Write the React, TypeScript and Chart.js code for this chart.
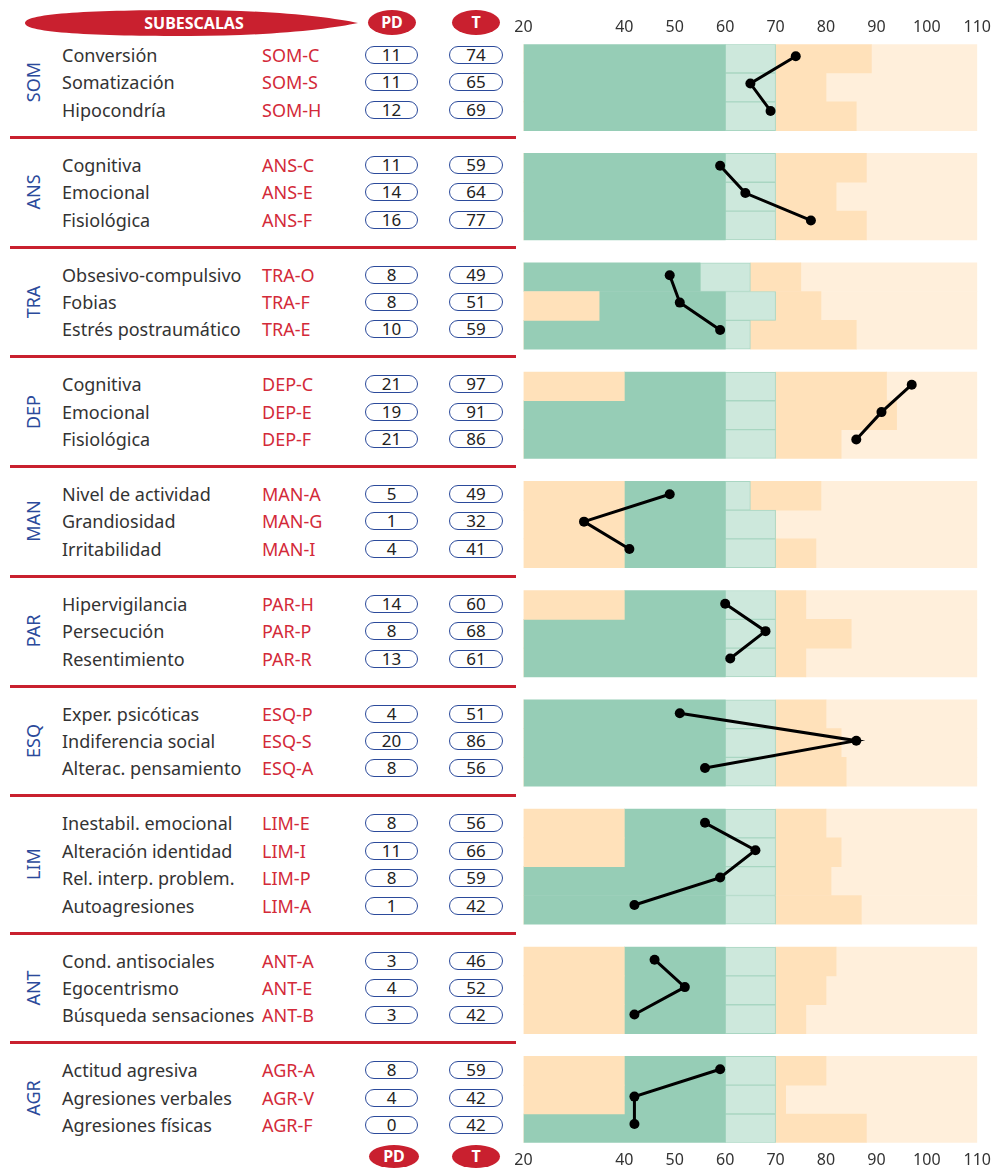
import React, { useEffect, useRef } from "react";
import { Chart, registerables } from "chart.js";

Chart.register(...registerables);

// ---------------- data ----------------
const GROUPS = ["SOM", "ANS", "TRA", "DEP", "MAN", "PAR", "ESQ", "LIM", "ANT", "AGR"];
const GROUP_SIZES = [3, 3, 3, 3, 3, 3, 3, 4, 3, 3];

const NAMES = [
  "Conversión", "Somatización", "Hipocondría",
  "Cognitiva", "Emocional", "Fisiológica",
  "Obsesivo-compulsivo", "Fobias", "Estrés postraumático",
  "Cognitiva", "Emocional", "Fisiológica",
  "Nivel de actividad", "Grandiosidad", "Irritabilidad",
  "Hipervigilancia", "Persecución", "Resentimiento",
  "Exper. psicóticas", "Indiferencia social", "Alterac. pensamiento",
  "Inestabil. emocional", "Alteración identidad", "Rel. interp. problem.", "Autoagresiones",
  "Cond. antisociales", "Egocentrismo", "Búsqueda sensaciones",
  "Actitud agresiva", "Agresiones verbales", "Agresiones físicas",
];

const CODES = [
  "SOM-C", "SOM-S", "SOM-H",
  "ANS-C", "ANS-E", "ANS-F",
  "TRA-O", "TRA-F", "TRA-E",
  "DEP-C", "DEP-E", "DEP-F",
  "MAN-A", "MAN-G", "MAN-I",
  "PAR-H", "PAR-P", "PAR-R",
  "ESQ-P", "ESQ-S", "ESQ-A",
  "LIM-E", "LIM-I", "LIM-P", "LIM-A",
  "ANT-A", "ANT-E", "ANT-B",
  "AGR-A", "AGR-V", "AGR-F",
];

const PD = [
  11, 11, 12,
  11, 14, 16,
  8, 8, 10,
  21, 19, 21,
  5, 1, 4,
  14, 8, 13,
  4, 20, 8,
  8, 11, 8, 1,
  3, 4, 3,
  8, 4, 0,
];

const T = [
  74, 65, 69,
  59, 64, 77,
  49, 51, 59,
  97, 91, 86,
  49, 32, 41,
  60, 68, 61,
  51, 86, 56,
  56, 66, 59, 42,
  46, 52, 42,
  59, 42, 42,
];

// band limits per row (T scale)
const LOW_END = [
  20, 20, 20,
  20, 20, 20,
  20, 35, 20,
  40, 20, 20,
  40, 40, 40,
  40, 20, 20,
  20, 20, 20,
  40, 40, 20, 20,
  40, 40, 40,
  40, 40, 20,
];
const DARK_END = [
  60, 60, 60,
  60, 60, 60,
  55, 60, 60,
  60, 60, 60,
  60, 60, 60,
  60, 60, 60,
  60, 60, 60,
  60, 60, 60, 60,
  60, 60, 60,
  60, 60, 60,
];
const LIGHT_END = [
  70, 70, 70,
  70, 70, 70,
  65, 70, 65,
  70, 70, 70,
  65, 70, 70,
  70, 70, 70,
  70, 70, 70,
  70, 70, 70, 70,
  70, 70, 70,
  70, 70, 70,
];
const ORANGE_END = [
  89, 80, 86,
  88, 82, 88,
  75, 79, 86,
  92, 94, 83,
  79, 70, 78,
  76, 85, 76,
  80, 83, 84,
  80, 83, 81, 87,
  82, 80, 76,
  80, 72, 88,
];

const X_TICKS = [20, 40, 50, 60, 70, 80, 90, 100, 110];
const X_MIN = 20;
const X_MAX = 110;

// ---------------- layout / style ----------------
const FONT = '"Noto Sans", "DejaVu Sans", sans-serif';
const RED = "#c9202f";
const CODE_RED = "#d32a39";
const BLUE = "#2b4a9b";
const TEXT = "#333333";
const DARK_GREEN = "#96cdb6";
const LIGHT_GREEN = "#cde8dc";
const LIGHT_GREEN_LINE = "#a9d6c2";
const ORANGE = "#ffe1ba";
const LIGHT_ORANGE = "#ffefdb";

const PLOT_TOP = 43;
const PLOT_BOTTOM = 1144;
const BAR_GAP = 0.79; // group gap, in bar rows
const TEXT_TOP = 55;
const TEXT_PITCH = 27.44;

const CANVAS_LEFT = 500;
const CANVAS_W = 499;
const CANVAS_H = 1178;

const rowGroup: number[] = [];
GROUP_SIZES.forEach((n, g) => {
  for (let i = 0; i < n; i++) rowGroup.push(g);
});
const N = rowGroup.length;
const barPos = rowGroup.map((g, r) => r + g * BAR_GAP);
const slot = rowGroup.map((g, r) => r + g);
const slotY = (s: number) => TEXT_TOP + s * TEXT_PITCH;

const Y_MIN = -0.5;
const Y_MAX = N - 1 + (GROUPS.length - 1) * BAR_GAP + 0.5;
const Y2_MIN = (PLOT_TOP - TEXT_TOP) / TEXT_PITCH;
const Y2_MAX = (PLOT_BOTTOM - TEXT_TOP) / TEXT_PITCH;

function seg(a: number[], b: number[]) {
  return a.map((v, i) => ({ x: [v, b[i]], y: barPos[i] }));
}

function barDs(data: any[], color: string, border?: any, borderColor?: string) {
  return {
    type: "bar" as const,
    data,
    backgroundColor: color,
    borderColor: borderColor || color,
    borderWidth: border || 0,
    borderSkipped: false,
    grouped: false,
    categoryPercentage: 1,
    barPercentage: 1,
    xAxisID: "x",
    yAxisID: "y",
    order: 2,
  };
}

export default function App() {
  const canvasRef = useRef<HTMLCanvasElement>(null);

  useEffect(() => {
    const xStart = NAMES.map(() => X_MIN);
    const xEnd = NAMES.map(() => X_MAX);

    const lineSets = GROUPS.map((_, g) => ({
      type: "line" as const,
      data: rowGroup
        .map((gg, r) => ({ gg, r }))
        .filter((o) => o.gg === g)
        .map((o) => ({ x: T[o.r], y: slot[o.r] })),
      borderColor: "#000",
      borderWidth: 3,
      pointRadius: 5,
      pointBackgroundColor: "#000",
      pointBorderWidth: 0,
      fill: false,
      tension: 0,
      xAxisID: "x",
      yAxisID: "y2",
      order: 0,
    }));

    const tickFont = { family: FONT, size: 16 };
    const xAxisBase = {
      type: "linear" as const,
      min: X_MIN,
      max: X_MAX,
      afterBuildTicks: (s: any) => {
        s.ticks = X_TICKS.map((v) => ({ value: v }));
      },
      grid: { display: false, drawTicks: false },
      border: { display: false },
    };

    const chart = new Chart(canvasRef.current as HTMLCanvasElement, {
      type: "bar",
      data: {
        datasets: [
          ...lineSets,
          barDs(seg(xStart, LOW_END), ORANGE),
          barDs(seg(LOW_END, DARK_END), DARK_GREEN),
          barDs(seg(DARK_END, LIGHT_END), LIGHT_GREEN, 1, LIGHT_GREEN_LINE),
          barDs(seg(LIGHT_END, ORANGE_END), ORANGE),
          barDs(seg(ORANGE_END, xEnd), LIGHT_ORANGE),
        ] as any,
      },
      options: {
        indexAxis: "y",
        responsive: false,
        animation: false,
        events: [],
        layout: { padding: { top: 11, left: 23.5, right: 0, bottom: 0 } },
        plugins: { legend: { display: false }, tooltip: { enabled: false } },
        scales: {
          x: {
            ...xAxisBase,
            position: "bottom",
            ticks: { font: tickFont, color: TEXT, padding: 8, autoSkip: false, maxRotation: 0 },
          },
          x2: {
            ...xAxisBase,
            axis: "x",
            position: "top",
            ticks: { font: tickFont, color: TEXT, padding: 7, autoSkip: false, maxRotation: 0 },
          },
          y: {
            type: "linear",
            display: false,
            reverse: true,
            min: Y_MIN,
            max: Y_MAX,
            afterBuildTicks: (s: any) => {
              s.ticks = [];
            },
          },
          y2: {
            type: "linear",
            axis: "y",
            display: false,
            reverse: true,
            min: Y2_MIN,
            max: Y2_MAX,
            afterBuildTicks: (s: any) => {
              s.ticks = [];
            },
          },
        } as any,
      },
    } as any);
    return () => chart.destroy();
  }, []);

  const ellipse = (cx: number, cy: number, w: number, h: number, label: string, key: string) => (
    <div
      key={key}
      style={{
        position: "absolute",
        left: cx - w / 2,
        top: cy - h / 2,
        width: w,
        height: h,
        borderRadius: "50%",
        background: RED,
        color: "#fff",
        fontWeight: 700,
        fontSize: 16,
        lineHeight: h + "px",
        textAlign: "center",
      }}
    >
      {label}
    </div>
  );

  const pill = (left: number, cy: number, w: number, value: number, key: string) => (
    <div
      key={key}
      style={{
        position: "absolute",
        left,
        top: cy - 9,
        width: w,
        height: 18,
        boxSizing: "border-box",
        border: `1.5px solid ${BLUE}`,
        borderRadius: 9,
        fontSize: 17,
        lineHeight: "15px",
        textAlign: "center",
        color: "#222",
      }}
    >
      {value}
    </div>
  );

  const rows = NAMES.map((name, r) => {
    const cy = slotY(slot[r]);
    return (
      <React.Fragment key={"r" + r}>
        <div
          style={{
            position: "absolute",
            left: 62,
            top: cy - 14,
            height: 28,
            lineHeight: "28px",
            fontSize: 18,
            color: TEXT,
            whiteSpace: "nowrap",
          }}
        >
          {name}
        </div>
        <div
          style={{
            position: "absolute",
            left: 262,
            top: cy - 14,
            height: 28,
            lineHeight: "28px",
            fontSize: 18,
            color: CODE_RED,
            whiteSpace: "nowrap",
          }}
        >
          {CODES[r]}
        </div>
        {pill(365, cy, 53, PD[r], "pd" + r)}
        {pill(449, cy, 54, T[r], "t" + r)}
      </React.Fragment>
    );
  });

  let acc = 0;
  const groupEls = GROUPS.map((gname, g) => {
    const first = acc;
    const last = acc + GROUP_SIZES[g] - 1;
    acc += GROUP_SIZES[g];
    const cy = (slotY(slot[first]) + slotY(slot[last])) / 2;
    const lineY = slotY(slot[last] + 1);
    return (
      <React.Fragment key={"g" + g}>
        <div
          style={{
            position: "absolute",
            left: 33,
            top: cy,
            transform: "translate(-50%, -50%) rotate(-90deg)",
            fontSize: 18,
            lineHeight: "20px",
            color: BLUE,
            whiteSpace: "nowrap",
          }}
        >
          {gname}
        </div>
        {g < GROUPS.length - 1 && (
          <div
            style={{
              position: "absolute",
              left: 10,
              top: lineY - 1.5,
              width: 506,
              height: 3,
              background: RED,
            }}
          />
        )}
      </React.Fragment>
    );
  });

  return (
    <div
      style={{
        position: "fixed",
        left: 0,
        top: 0,
        width: 993,
        height: 1172,
        overflow: "hidden",
        background: "#fff",
        fontFamily: FONT,
      }}
    >
      <svg
        width={370}
        height={45}
        style={{ position: "absolute", left: 0, top: 0 }}
      >
        <path
          d="M 25 23 C 25 13, 95 10, 190 10 C 270 10, 330 17, 358 23 C 330 29, 270 36, 190 36 C 95 36, 25 33, 25 23 Z"
          fill={RED}
        />
      </svg>
      <div
        style={{
          position: "absolute",
          left: 94,
          top: 9,
          width: 200,
          height: 28,
          lineHeight: "28px",
          textAlign: "center",
          color: "#fff",
          fontWeight: 700,
          fontSize: 16,
        }}
      >
        SUBESCALAS
      </div>
      {ellipse(392, 22.5, 48, 25, "PD", "pdTop")}
      {ellipse(476, 22.5, 48, 25, "T", "tTop")}
      {ellipse(394, 1156, 50, 23, "PD", "pdBot")}
      {ellipse(476, 1156, 48, 23, "T", "tBot")}
      {groupEls}
      {rows}
      <canvas
        ref={canvasRef}
        width={CANVAS_W}
        height={CANVAS_H}
        style={{ position: "absolute", left: CANVAS_LEFT, top: 0, width: CANVAS_W, height: CANVAS_H }}
      />
    </div>
  );
}
